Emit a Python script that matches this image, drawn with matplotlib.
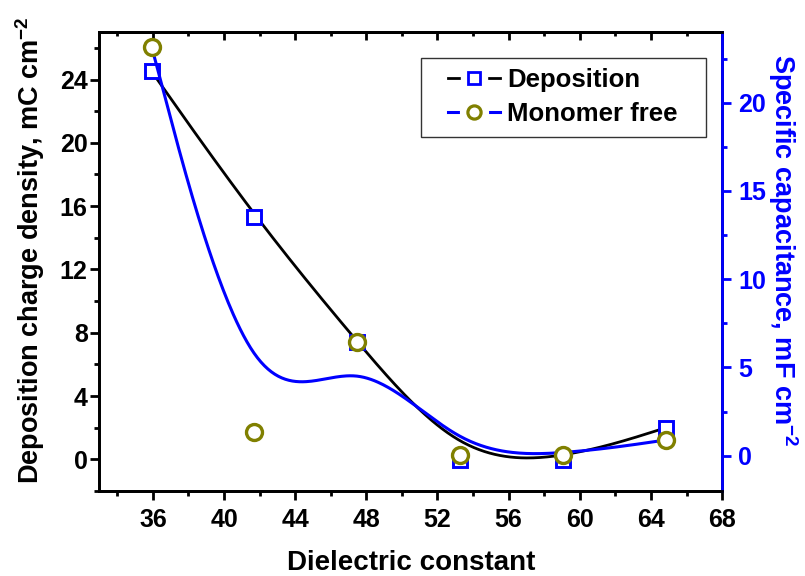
import numpy as np
import matplotlib
matplotlib.use("Agg")
import matplotlib.pyplot as plt
from matplotlib.lines import Line2D
from matplotlib.patches import Rectangle
from matplotlib.legend_handler import HandlerTuple
from matplotlib.ticker import MultipleLocator

plt.rcParams["font.family"] = ["Liberation Sans", "DejaVu Sans"]
plt.rcParams["font.weight"] = "bold"
plt.rcParams["mathtext.fontset"] = "custom"
plt.rcParams["mathtext.rm"] = "Liberation Sans:bold"
plt.rcParams["mathtext.default"] = "rm"

# data
dielectric = [35.93, 41.68, 47.47, 53.26, 59.05, 64.85]
deposition_charge = [24.51, 15.34, 7.40, -0.06, -0.06, 2.00]   # mC cm-2 (left axis)
monomer_free_cap = [23.17, 1.32, 6.42, 0.04, 0.04, 0.89]       # mF cm-2 (right axis)

BLUE = "#0000FF"
OLIVE = "#808000"


def bspline(xs, ys, per_seg=60):
    """Uniform cubic B-spline, end points tripled so it starts/ends on them."""
    P = np.column_stack([xs, ys])
    P = np.vstack([P[:1], P[:1], P, P[-1:], P[-1:]])
    u = np.linspace(0, 1, per_seg)
    B = np.column_stack([(1 - u) ** 3,
                         3 * u ** 3 - 6 * u ** 2 + 4,
                         -3 * u ** 3 + 3 * u ** 2 + 3 * u + 1,
                         u ** 3]) / 6.0
    segs = [B @ P[i:i + 4] for i in range(len(P) - 3)]
    C = np.vstack(segs)
    return C[:, 0], C[:, 1]


fig = plt.figure(figsize=(8.05, 5.76), dpi=100)
ax = fig.add_axes([0.1236, 0.1476, 0.7734, 0.7968])
ax2 = ax.twinx()

bx, by = bspline(dielectric, deposition_charge)
ax.plot(bx, by, color="black", lw=2.0, zorder=2)
ax.plot(dielectric, deposition_charge, ls="none", marker="s", ms=9.8,
        mfc="white", mec=BLUE, mew=2.1, zorder=3)

cx, cy = bspline(dielectric, monomer_free_cap)
ax2.plot(cx, cy, color=BLUE, lw=2.2, zorder=2)
ax2.plot(dielectric, monomer_free_cap, ls="none", marker="o", ms=11.5,
         mfc="white", mec=OLIVE, mew=2.4, zorder=3)

ax.set_xlim(33, 68)
ax.set_ylim(-2, 27)
ax2.set_ylim(-2, 24)

ax.set_xticks(np.arange(36, 69, 4))
ax.xaxis.set_minor_locator(MultipleLocator(2))
ax.set_yticks(np.arange(0, 25, 4))
ax.yaxis.set_minor_locator(MultipleLocator(2))
ax2.set_yticks(np.arange(0, 21, 5))
ax2.yaxis.set_minor_locator(MultipleLocator(2.5))

for sp in list(ax.spines.values()) + list(ax2.spines.values()):
    sp.set_linewidth(2.0)
ax2.spines["right"].set_color(BLUE)

ax.tick_params(axis="x", which="both", direction="out", top=False, width=2.0,
               labelsize=18, pad=6)
ax.tick_params(axis="y", which="both", direction="out", right=False, width=2.0,
               labelsize=18, pad=2)
ax2.tick_params(axis="y", which="both", direction="out", colors=BLUE, width=2.0,
                labelsize=18, pad=5)
for a in (ax.xaxis, ax.yaxis, ax2.yaxis):
    a.set_tick_params(which="major", length=6.5)
    a.set_tick_params(which="minor", length=3.3)

# inward ticks on the top edge
top = ax.secondary_xaxis("top")
top.set_xticks(np.arange(36, 69, 4))
top.xaxis.set_minor_locator(MultipleLocator(2))
top.tick_params(which="both", direction="in", width=2.0, labeltop=False)
top.tick_params(which="major", length=6)
top.tick_params(which="minor", length=3.2)
top.spines["top"].set_linewidth(2.0)

ax.set_xlabel("Dielectric constant", fontsize=20, fontweight="bold", va="center")
ax.xaxis.set_label_coords(0.5, -0.157)
ax.set_ylabel("Deposition charge density, mC cm$^{-2}$", fontsize=19.5,
              fontweight="bold", va="center")
ax.yaxis.set_label_coords(-0.112, 0.525)
ax2.set_ylabel("Specific capacitance, mF cm$^{-2}$", fontsize=19.5,
               fontweight="bold", color=BLUE, rotation=270, va="center")
ax2.yaxis.set_label_coords(1.097, 0.525)

# legend entries: line broken by a white halo around the marker
dep_handle = (
    Line2D([], [], color="black", lw=2.0),
    Line2D([], [], ls="none", marker="s", ms=19, mfc="white", mec="white"),
    Line2D([], [], ls="none", marker="s", ms=8, mfc="white", mec=BLUE, mew=2.0),
)
mono_handle = (
    Line2D([], [], color=BLUE, lw=2.2),
    Line2D([], [], ls="none", marker="o", ms=20, mfc="white", mec="white"),
    Line2D([], [], ls="none", marker="o", ms=9.5, mfc="white", mec=OLIVE, mew=2.3),
)
leg = ax.legend([dep_handle, mono_handle], ["Deposition", "Monomer free"],
                handler_map={tuple: HandlerTuple(ndivide=1)},
                loc="upper right", bbox_to_anchor=(0.9454, 0.943),
                borderaxespad=0, prop={"size": 18.5, "weight": "bold"},
                frameon=False, handlelength=2.0, borderpad=0.4,
                labelspacing=0.39, handletextpad=0.3)

# legend frame with the wider side margins of the original
fig.canvas.draw()
bb = leg.get_window_extent()
(x0, y0), (x1, y1) = fig.transFigure.inverted().transform(
    [[bb.x0 - 17, bb.y0], [bb.x1 + 18, bb.y1]])
fig.add_artist(Rectangle((x0, y0), x1 - x0, y1 - y0, transform=fig.transFigure,
                         fill=False, edgecolor="#333333", lw=1.0, zorder=5))

fig.savefig("out.png", dpi=100)
